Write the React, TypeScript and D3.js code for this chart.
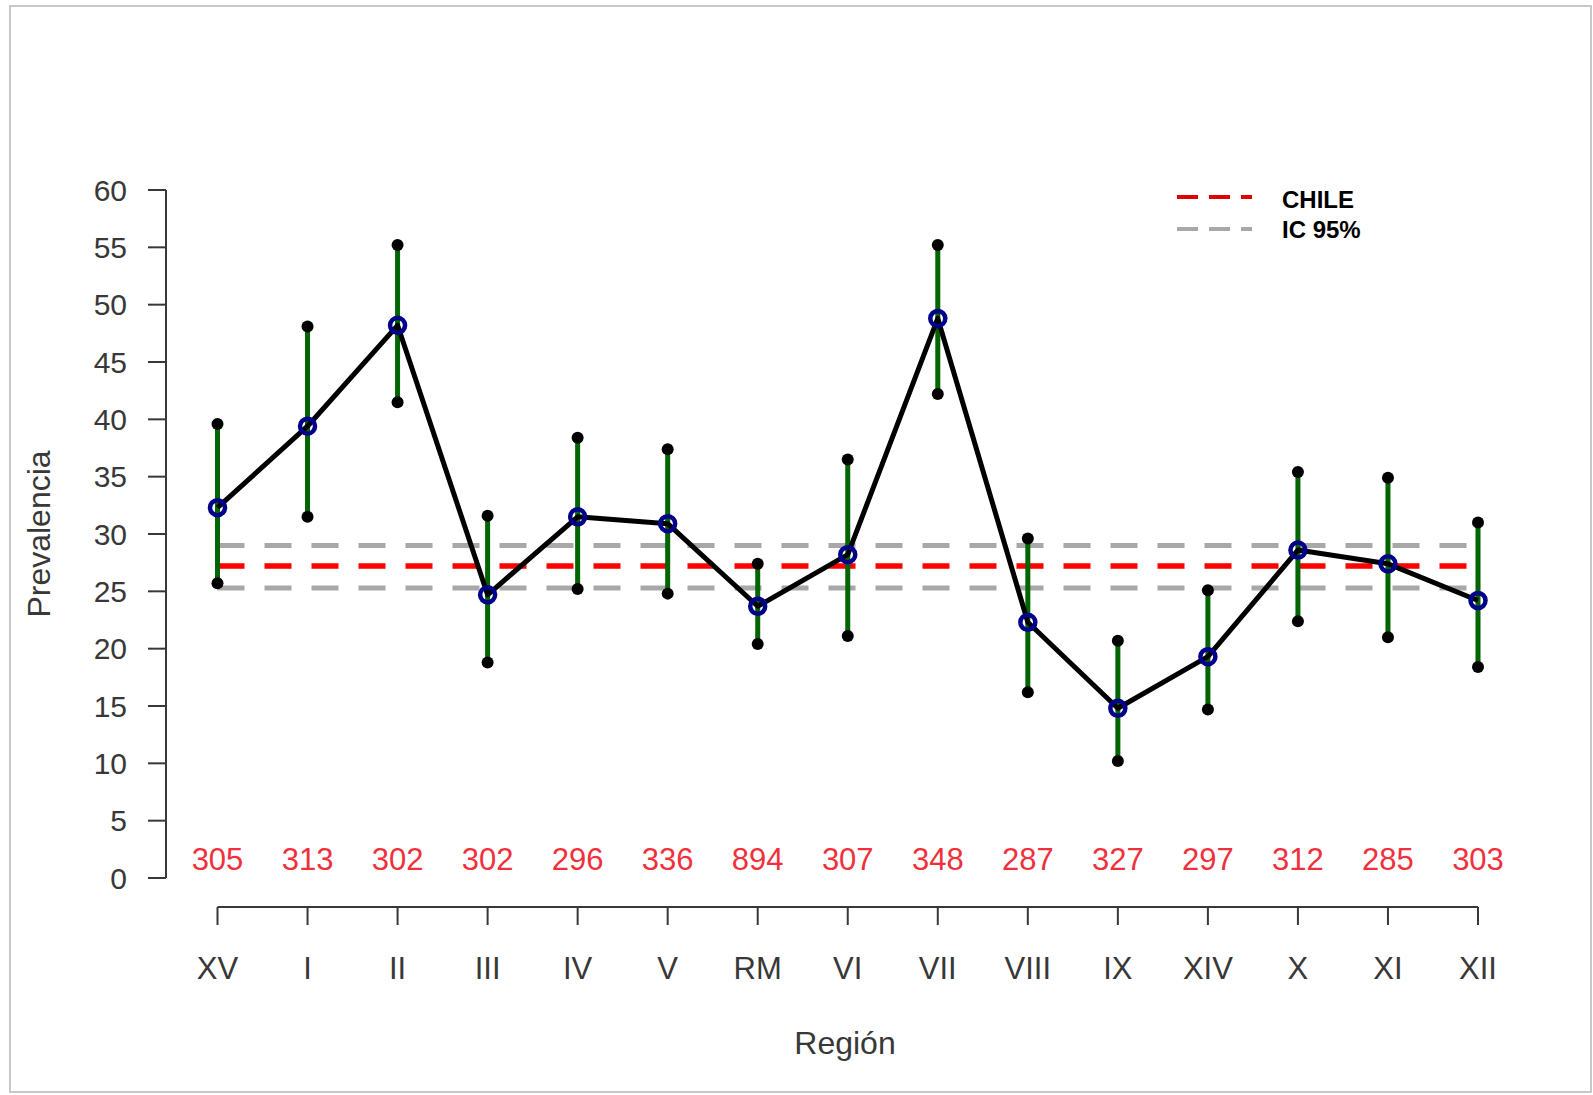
import React from "react";
import * as d3 from "d3";

const regions = ["XV", "I", "II", "III", "IV", "V", "RM", "VI", "VII", "VIII", "IX", "XIV", "X", "XI", "XII"];
const prevalence = [32.3, 39.4, 48.2, 24.7, 31.5, 30.9, 23.7, 28.2, 48.8, 22.3, 14.8, 19.3, 28.6, 27.4, 24.2];
const upperCI = [39.6, 48.1, 55.2, 31.6, 38.4, 37.4, 27.4, 36.5, 55.2, 29.6, 20.7, 25.1, 35.4, 34.9, 31.0];
const lowerCI = [25.7, 31.5, 41.5, 18.8, 25.2, 24.8, 20.4, 21.1, 42.2, 16.2, 10.2, 14.7, 22.4, 21.0, 18.4];
const sampleSizes = [305, 313, 302, 302, 296, 336, 894, 307, 348, 287, 327, 297, 312, 285, 303];
const chileValue = 27.2;
const chileCI = [25.3, 29.0];
const yTicks = [0, 5, 10, 15, 20, 25, 30, 35, 40, 45, 50, 55, 60];
const legendLabels = ["CHILE", "IC 95%"];

const W = 1593;
const H = 1095;
const FONT = "'Liberation Sans', Arial, Helvetica, sans-serif";

export default function App() {
  const x = d3.scalePoint<string>().domain(regions).range([217.5, 1478]);
  const y = d3.scaleLinear().domain([0, 60]).range([878, 190]);
  const axisX = 166;
  const axisY = 907;
  const x0 = x(regions[0]) as number;
  const x1 = x(regions[regions.length - 1]) as number;

  const line = d3
    .line<number>()
    .x((_, i) => x(regions[i]) as number)
    .y((d) => y(d));

  const textColor = "#383838";

  return (
    <svg
      width={W}
      height={H}
      viewBox={`0 0 ${W} ${H}`}
      style={{ position: "absolute", left: 0, top: 0, background: "#fff" }}
    >
      <rect x={0} y={0} width={W} height={H} fill="#fff" />
      <rect x={10} y={6} width={1581} height={1086} fill="#fff" stroke="#c8c8c8" strokeWidth={2} />

      {/* Y axis */}
      <line x1={axisX} x2={axisX} y1={y(60)} y2={y(0)} stroke={textColor} strokeWidth={2} />
      {yTicks.map((t) => (
        <g key={t}>
          <line x1={axisX - 18} x2={axisX} y1={y(t)} y2={y(t)} stroke={textColor} strokeWidth={2} />
          <text
            x={127}
            y={y(t) + 10.7}
            textAnchor="end"
            fontFamily={FONT}
            fontSize={30}
            fill={textColor}
          >
            {t}
          </text>
        </g>
      ))}
      <text
        transform={`translate(50, ${(y(0) + y(60)) / 2}) rotate(-90)`}
        textAnchor="middle"
        fontFamily={FONT}
        fontSize={32}
        fill={textColor}
      >
        Prevalencia
      </text>

      {/* X axis */}
      <line x1={x0} x2={x1} y1={axisY} y2={axisY} stroke={textColor} strokeWidth={2} />
      {regions.map((r) => (
        <g key={r}>
          <line x1={x(r)} x2={x(r)} y1={axisY} y2={axisY + 18} stroke={textColor} strokeWidth={2} />
          <text
            x={x(r)}
            y={979}
            textAnchor="middle"
            fontFamily={FONT}
            fontSize={31}
            fill={textColor}
          >
            {r}
          </text>
        </g>
      ))}
      <text x={845} y={1054} textAnchor="middle" fontFamily={FONT} fontSize={32} fill={textColor}>
        Región
      </text>

      {/* Sample sizes */}
      {sampleSizes.map((n, i) => (
        <text
          key={i}
          x={x(regions[i])}
          y={869.5}
          textAnchor="middle"
          fontFamily={FONT}
          fontSize={31}
          fill="#f2303c"
        >
          {n}
        </text>
      ))}

      {/* Reference lines */}
      {chileCI.map((v, i) => (
        <line
          key={i}
          x1={x0}
          x2={x1}
          y1={y(v)}
          y2={y(v)}
          stroke="#a8a8a8"
          strokeWidth={5}
          strokeDasharray="27 20"
        />
      ))}
      <line
        x1={x0}
        x2={x1}
        y1={y(chileValue)}
        y2={y(chileValue)}
        stroke="#ff0000"
        strokeWidth={5.5}
        strokeDasharray="27 20"
      />

      {/* Error bars */}
      {regions.map((r, i) => (
        <line
          key={r}
          x1={x(r)}
          x2={x(r)}
          y1={y(lowerCI[i])}
          y2={y(upperCI[i])}
          stroke="#006400"
          strokeWidth={5}
        />
      ))}
      {regions.map((r, i) => (
        <g key={r}>
          <circle cx={x(r)} cy={y(upperCI[i])} r={6} fill="#000" />
          <circle cx={x(r)} cy={y(lowerCI[i])} r={6} fill="#000" />
        </g>
      ))}

      {/* Prevalence line */}
      <path d={line(prevalence) || ""} fill="none" stroke="#000" strokeWidth={5} strokeLinejoin="round" />
      {regions.map((r, i) => (
        <circle
          key={r}
          cx={x(r)}
          cy={y(prevalence[i])}
          r={7.5}
          fill="none"
          stroke="#00008b"
          strokeWidth={4.5}
        />
      ))}

      {/* Legend */}
      <line x1={1177} x2={1252} y1={197} y2={197} stroke="#e00000" strokeWidth={4} strokeDasharray="21 11" />
      <line x1={1177} x2={1252} y1={229} y2={229} stroke="#a8a8a8" strokeWidth={4} strokeDasharray="21 11" />
      {legendLabels.map((l, i) => (
        <text
          key={l}
          x={1282}
          y={208 + i * 30}
          fontFamily={FONT}
          fontSize={24}
          fontWeight="bold"
          fill="#000"
        >
          {l}
        </text>
      ))}
    </svg>
  );
}
